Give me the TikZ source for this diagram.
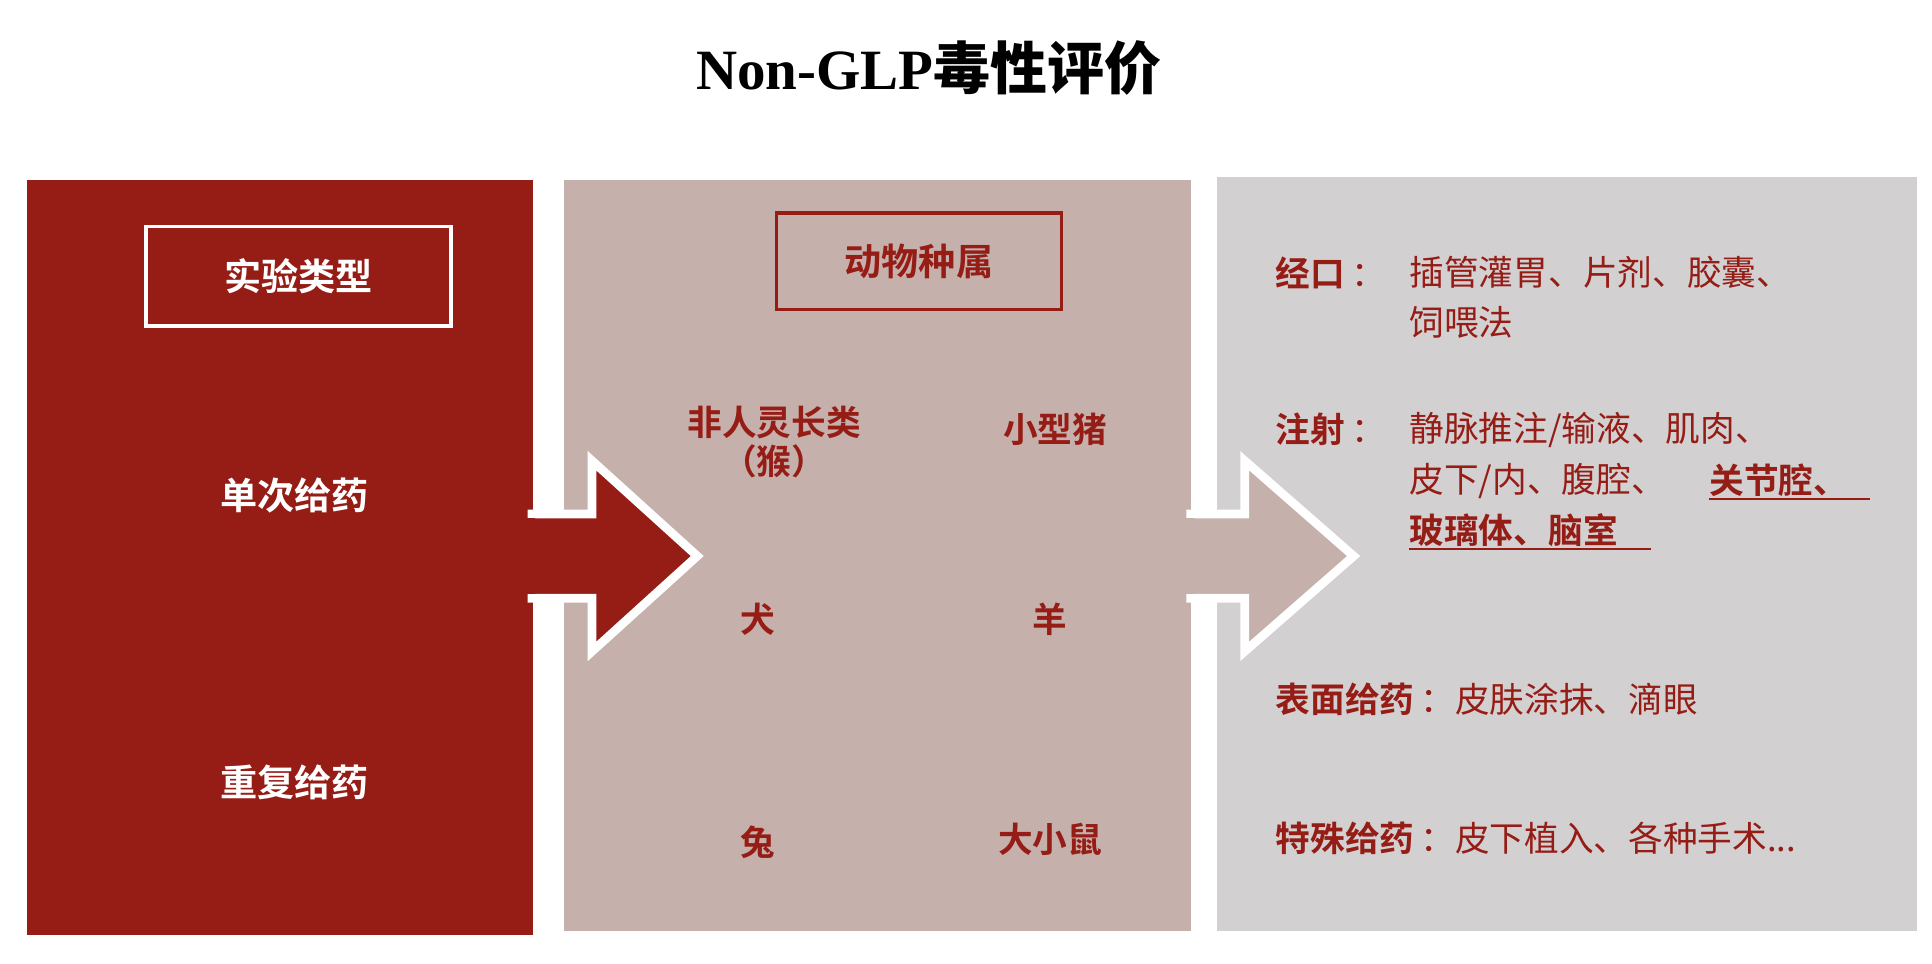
\documentclass[tikz,border=0pt]{standalone}
\usepackage{fontspec}
\setmainfont{Liberation Serif}
\newfontfamily\cjk{Noto Sans CJK SC}
\newfontfamily\cjkb{Noto Sans CJK SC Bold}
\definecolor{dred}{RGB}{150,28,22}
\definecolor{rose}{RGB}{197,176,171}
\definecolor{lgray}{RGB}{210,208,208}
\begin{document}
\begin{tikzpicture}[x=1pt,y=-1pt,
  wt/.style={text=white,font=\cjkb\fontsize{30}{34}\selectfont},
  an/.style={text=dred,font=\cjkb\fontsize{28}{32}\selectfont},
  rt/.style={text=dred,font=\cjk\fontsize{28}{40}\selectfont,anchor=west,inner sep=0pt}]
\useasboundingbox (0,0) rectangle (1560,778);
\node[font=\bfseries\fontsize{46}{50}\selectfont] (title) at (750,55) {Non-GLP{\cjkb 毒性评价}};
% boxes
\fill[dred] (22,145) rectangle (430,755);
\fill[rose] (455,145) rectangle (962,752);
\fill[lgray] (983,143) rectangle (1548,752);
% arrows
\draw[white,line width=7pt,fill=dred,line join=miter] (426,415) -- (478,415) -- (478,372) -- (563,449) -- (478,526) -- (478,483) -- (426,483);
\fill[dred] (420,418) rectangle (432,480);
\draw[white,line width=7pt,fill=rose,line join=miter] (958,415) -- (1005,415) -- (1005,372) -- (1093,449) -- (1005,526) -- (1005,483) -- (958,483);
\fill[rose] (952,418) rectangle (964,480);
% headers
\node[draw=white,line width=3pt,minimum width=246pt,minimum height=80pt,wt] (h1) at (241,223) {实验类型};
\node[draw=dred,line width=3pt,minimum width=230pt,minimum height=78pt,an,font=\cjkb\fontsize{30}{34}\selectfont] (h2) at (742,211) {动物种属};
\node[wt] (s1) at (238,400) {单次给药};
\node[wt] (s2) at (238,632) {重复给药};
% animals
\node[an,align=center] (a1) at (625,357) {非人灵长类\\（猴）};
\node[an] (a2) at (852,347) {小型猪};
\node[an] (a3) at (612,500) {犬};
\node[an] (a4) at (848,500) {羊};
\node[an] (a5) at (612,680) {兔};
\node[an] (a6) at (848,678) {大小鼠};
% routes
\node[rt] (r1) at (1030,220) {{\cjkb 经口}\,：};
\node[rt] (r1a) at (1138,220) {插管灌胃、片剂、胶囊、};
\node[rt] (r1b) at (1138,260) {饲喂法};
\node[rt] (r2) at (1030,347) {{\cjkb 注射}\,：};
\node[rt] (r2a) at (1138,347) {静脉推注/输液、肌肉、};
\node[rt] (r2b) at (1138,388) {皮下/内、腹腔、};
\node[rt] (r2c) at (1380,388) {\cjkb 关节腔、};
\node[rt] (r2d) at (1138,428) {\cjkb 玻璃体、脑室};
\draw[dred,line width=1.5pt] (1380,403) -- (1510,403);
\draw[dred,line width=1.5pt] (1138,443) -- (1333,443);
\node[rt] (r3) at (1030,565) {{\cjkb 表面给药}\,：皮肤涂抹、滴眼};
\node[rt] (r4) at (1030,677) {{\cjkb 特殊给药}\,：皮下植入、各种手术...};
\end{tikzpicture}
\end{document}
